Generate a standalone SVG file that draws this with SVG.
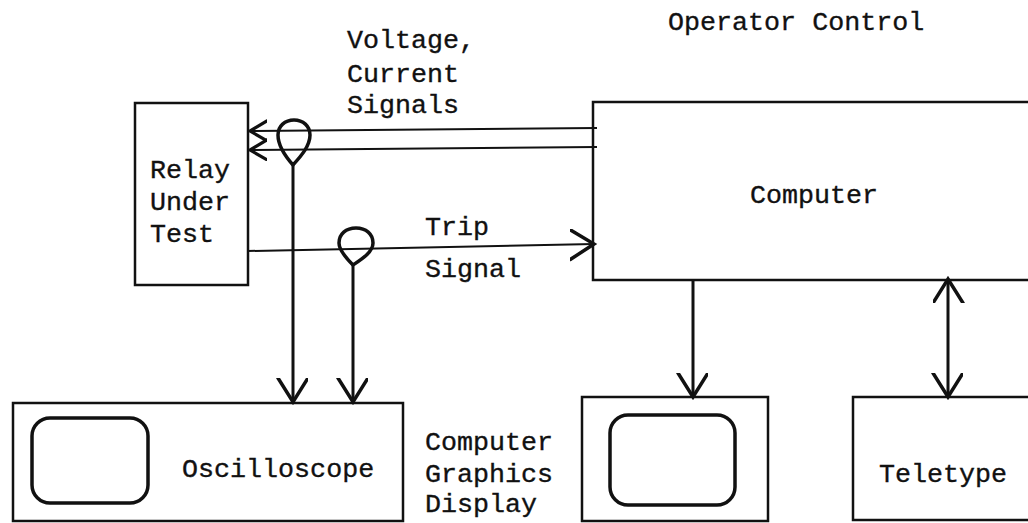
<svg xmlns="http://www.w3.org/2000/svg" width="1028" height="523" viewBox="0 0 1028 523">
<style>
.box{fill:none;stroke:#111;stroke-width:2.5}
.scr{fill:none;stroke:#111;stroke-width:3.5}
.ln{fill:none;stroke:#111;stroke-width:2}
.vl{fill:none;stroke:#111;stroke-width:3}
.loop{fill:none;stroke:#111;stroke-width:3.5;stroke-linejoin:round}
text{font-family:"Liberation Mono","Courier New",monospace;font-size:26.7px;fill:#111;stroke:#111;stroke-width:0.35}
</style>
<defs>
<marker id="big" markerUnits="userSpaceOnUse" markerWidth="40" markerHeight="40" refX="24" refY="15" orient="auto-start-reverse" viewBox="0 0 40 40">
<polyline points="0,0 24,15 0,30" fill="none" stroke="#111" stroke-width="3.5" stroke-linecap="round" stroke-linejoin="miter"/>
</marker>
<marker id="small" markerUnits="userSpaceOnUse" markerWidth="30" markerHeight="30" refX="17" refY="11" orient="auto" viewBox="0 0 30 30">
<polyline points="0,1 17,11 0,21" fill="none" stroke="#111" stroke-width="3.2" stroke-linecap="round"/>
</marker>
</defs>
<rect width="1028" height="523" fill="#fff"/>
<text x="668" y="30">Operator Control</text>
<g id="relay">
<rect class="box" x="135" y="103" width="113" height="182"/>
<text x="150" y="178">Relay</text>
<text x="150" y="210">Under</text>
<text x="150" y="242">Test</text>
</g>
<g id="computer">
<rect class="box" x="593" y="102" width="470" height="178"/>
<text x="750" y="203">Computer</text>
</g>
<g id="oscilloscope">
<rect class="box" x="13" y="403" width="390" height="118"/>
<rect class="scr" x="32" y="418" width="116" height="85" rx="18"/>
<text x="182" y="477">Oscilloscope</text>
</g>
<g id="graphics-display">
<rect class="box" x="582" y="397" width="186" height="124"/>
<rect class="scr" x="610" y="415" width="125" height="90" rx="18"/>
</g>
<g id="teletype">
<rect class="box" x="853" y="397" width="200" height="123"/>
<text x="879" y="482">Teletype</text>
</g>
<g id="labels">
<text x="347" y="48">Voltage,</text>
<text x="347" y="82">Current</text>
<text x="347" y="113">Signals</text>
<text x="425" y="235">Trip</text>
<text x="425" y="277">Signal</text>
<text x="425" y="450">Computer</text>
<text x="425" y="482">Graphics</text>
<text x="425" y="512">Display</text>
</g>
<g id="connectors">
<line class="ln" x1="597" y1="128" x2="250" y2="131" marker-end="url(#small)"/>
<line class="ln" x1="597" y1="147" x2="250" y2="150" marker-end="url(#small)"/>
<line class="ln" x1="248" y1="251" x2="594" y2="244" marker-end="url(#big)"/>
<path class="loop" d="M293,165 C285,156 278,146 278,135 C278,126 285,120 294,120 C303,120 310,126 310,135 C310,146 301,156 293,165 Z"/>
<path class="loop" d="M353,265 C346,258 339,250 339,243 C339,234 346,228 356,228 C366,228 373,234 373,243 C373,252 362,259 353,265 Z"/>
<line class="vl" x1="293" y1="165" x2="293" y2="402" marker-end="url(#big)"/>
<line class="vl" x1="353" y1="265" x2="353" y2="402" marker-end="url(#big)"/>
<line class="vl" x1="693" y1="280" x2="693" y2="397" marker-end="url(#big)"/>
<line class="vl" x1="948" y1="279" x2="948" y2="397" marker-start="url(#big)" marker-end="url(#big)"/>
</g>
</svg>
